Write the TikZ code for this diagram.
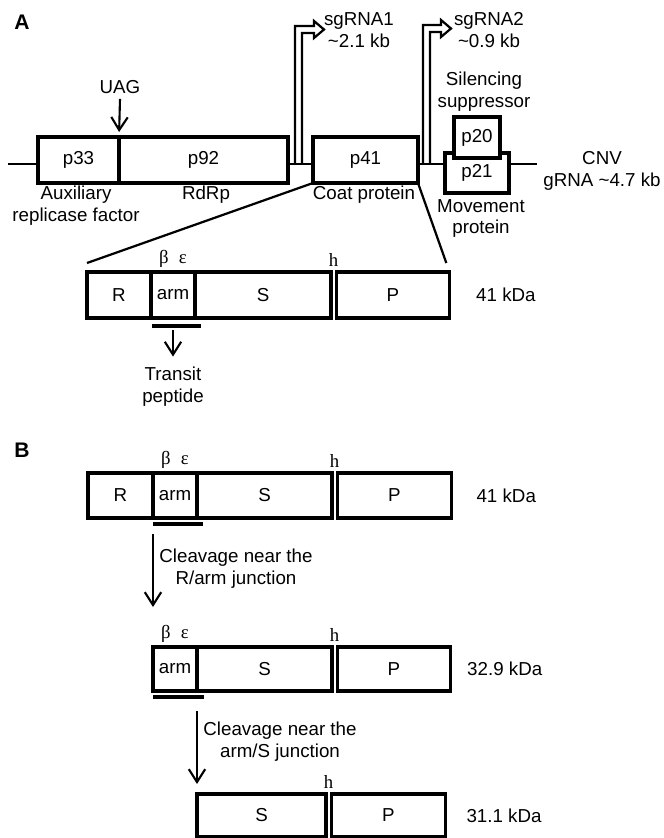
\documentclass[tikz,border=0pt]{standalone}
\usepackage{fontspec}
\setmainfont{Liberation Sans}
\newfontfamily\grkfont{Liberation Serif}
\usetikzlibrary{arrows.meta,positioning,calc}

\begin{document}
\begin{tikzpicture}[
  x=0.03cm, y=-0.03cm,
  seg/.style={
    draw, fill=white, line width=3pt,
    inner sep=0pt, outer sep=0pt,
    font=\fontsize{16}{19}\selectfont
  },
  wd/.style={minimum width=#1*0.03cm},
  ht/.style={minimum height=#1*0.03cm},
  txt/.style={align=center, inner sep=0pt, font=\fontsize{16}{18.7}\selectfont},
  grk/.style={inner sep=0pt, font=\grkfont\fontsize{16}{19}\selectfont},
  panel/.style={inner sep=0pt, font=\bfseries\fontsize{18}{21}\selectfont},
  rna/.style={line width=1.9pt},
  lnk/.style={-{Straight Barb[length=11pt,width=14pt]}, line width=1.8pt},
  bar/.style={line width=3pt},
]
\useasboundingbox (0,0) rectangle (663,838);

%% ---------------- panel A ----------------
\node[panel] (lA) at (22,22) {A};

%% genomic RNA line
\coordinate (g0) at (8,164);
\coordinate (g1) at (537,164);
\draw[rna] (g0) -- (g1);

%% subgenomic promoters (hollow bent arrows)
\coordinate (sg1) at (295,164);
\coordinate (sg2) at (423,164);
\draw[rna] (sg1) -- ++(0,-138) -- ++(19,0) -- ++(0,-5) -- ++(10,8.5)
  -- ++(-10,8.5) -- ++(0,-5) -- ++(-12,0) -- ++(0,131);
\draw[rna] (sg2) -- ++(0,-139) -- ++(18,0) -- ++(0,-5) -- ++(10,8.5)
  -- ++(-10,8.5) -- ++(0,-5) -- ++(-11,0) -- ++(0,132);
\node[txt] (sg1t) at (359,30) {sgRNA1\\\textasciitilde 2.1 kb};
\node[txt] (sg2t) at (489,30) {sgRNA2\\\textasciitilde 0.9 kb};

%% ORFs
\node[seg, wd=81, ht=46, anchor=west] (p33) at (38,160) {p33};
\node[seg, wd=169, ht=46, right=0pt of p33] (p92) {p92};
\node[seg, wd=105, ht=46, anchor=west] (p41) at (313,160) {p41};
\node[seg, wd=64, ht=40, anchor=west] (p21) at (445,173) {p21};
\node[seg, wd=46, ht=41, anchor=west] (p20) at (454,137.5) {p20};

%% read-through stop codon
\node[txt] (uag) at (120,87) {UAG};
\draw[lnk, shorten >=0.15cm] ([yshift=-0.15cm]uag.south) -- (p33.north east);

%% ORF annotations
\node[txt] (aux) at (76,206) {Auxiliary\\replicase factor};
\node[txt] (rdrp) at (206,195) {RdRp};
\node[txt] (coat) at (364,195) {Coat protein};
\node[txt] (sil) at (484,92) {Silencing\\suppressor};
\node[txt] (mov) at (481,218.5) {Movement\\protein};
\node[txt] (cnv) at (602,171) {CNV\\gRNA \textasciitilde 4.7 kb};

%% coat protein domains, 41 kDa
\node[seg, wd=64, ht=46, anchor=west] (rA) at (87,295) {R};
\node[seg, wd=44, ht=46, right=0pt of rA] (armA) {arm};
\node[seg, wd=136, ht=46, right=0pt of armA] (sA) {S};
\node[seg, wd=113, ht=46, right=0.16cm of sA] (pA) {P};
\node[txt, right=0.8cm of pA] (kA) {41 kDa};
\node[grk, above=0.12cm of armA] (beA) {β\hspace{0.55em}ε};
\node[grk, anchor=south] (hA)
  at ($(sA.north east)!0.5!(pA.north west)+(0,-5)$) {h};

%% zoom lines
\draw[rna] (p41.south west) -- ([yshift=0.27cm]rA.north west);
\draw[rna] (p41.south east) -- ([xshift=-0.09cm,yshift=0.27cm]pA.north east);

%% transit peptide
\coordinate (uA1) at ($(armA.south west)+(1,8)$);
\coordinate (uA2) at ($(armA.south east)+(6,8)$);
\draw[bar] (uA1) -- (uA2);
\node[txt] (tp) at (173,386.5) {Transit\\peptide};
\draw[lnk] ([yshift=-0.36cm]armA.south) -- ([yshift=0.3cm]tp.north);

%% ---------------- panel B ----------------
\node[panel] (lB) at (22,450) {B};

%% full length, 41 kDa
\node[seg, wd=65, ht=45, anchor=west] (rB) at (88,495.5) {R};
\node[seg, wd=44, ht=45, right=0pt of rB] (armB) {arm};
\node[seg, wd=135, ht=45, right=0pt of armB] (sB) {S};
\node[seg, wd=114, ht=45, right=0.16cm of sB] (pB) {P};
\node[txt, right=0.75cm of pB] (kB) {41 kDa};
\node[grk, above=0.12cm of armB] (beB) {β\hspace{0.55em}ε};
\node[grk, anchor=south] (hB)
  at ($(sB.north east)!0.5!(pB.north west)+(0,-5)$) {h};
\coordinate (uB1) at ($(armB.south west)+(0,6)$);
\coordinate (uB2) at ($(armB.south east)+(6,6)$);
\draw[bar] (uB1) -- (uB2);

%% 32.9 kDa
\node[seg, wd=44, ht=44, anchor=west] (armC) at (153,669) {arm};
\node[seg, wd=135, ht=44, right=0pt of armC] (sC) {S};
\node[seg, wd=113, ht=44, right=0.16cm of sC] (pC) {P};
\node[txt, right=0.5cm of pC] (kC) {32.9 kDa};
\node[grk, above=0.12cm of armC] (beC) {β\hspace{0.55em}ε};
\node[grk, anchor=south] (hC)
  at ($(sC.north east)!0.5!(pC.north west)+(0,-5)$) {h};
\coordinate (uC1) at ($(armC.south west)+(0,6)$);
\coordinate (uC2) at ($(armC.south east)+(7,6)$);
\draw[bar] (uC1) -- (uC2);

%% 31.1 kDa
\node[seg, wd=129, ht=43, anchor=west] (sD) at (197,815.5) {S};
\node[seg, wd=114, ht=43, right=0.16cm of sD] (pD) {P};
\node[txt, right=0.63cm of pD] (kD) {31.1 kDa};
\node[grk, anchor=south] (hD)
  at ($(sD.north east)!0.5!(pD.north west)+(0,-5)$) {h};

%% cleavage steps
\draw[lnk] ([yshift=-0.48cm]armB.south west) -- ([yshift=1.2cm]armC.north west);
\node[txt] (cl1) at (236,569) {Cleavage near the\\R/arm junction};
\draw[lnk] ([yshift=-0.6cm]sC.south west) -- ([yshift=0.3cm]sD.north west);
\node[txt] (cl2) at (280,742) {Cleavage near the\\arm/S junction};
\end{tikzpicture}
\end{document}
